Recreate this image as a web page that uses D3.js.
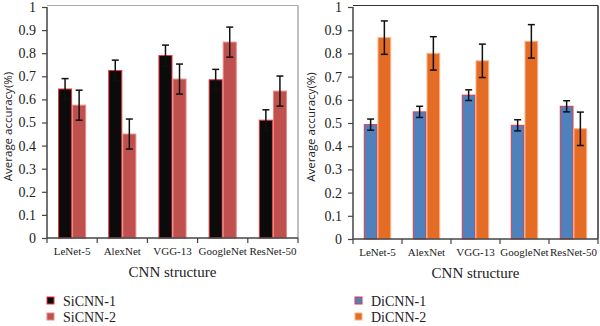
<!DOCTYPE html>
<html>
<head>
<meta charset="utf-8">
<script src="https://cdnjs.cloudflare.com/ajax/libs/d3/7.8.5/d3.min.js"></script>
<style>
  body { margin: 0; background: #fff; }
  svg { display: block; }
</style>
</head>
<body>
<div id="chart"></div>
<script>
var categories = ["LeNet-5", "AlexNet", "VGG-13", "GoogleNet", "ResNet-50"];
var yTicks = [0, 0.1, 0.2, 0.3, 0.4, 0.5, 0.6, 0.7, 0.8, 0.9, 1];

// left panel
var siNames = ["SiCNN-1", "SiCNN-2"];
var siCNN1 = [0.645, 0.725, 0.79, 0.685, 0.51];
var siCNN1Err = [0.045, 0.045, 0.045, 0.045, 0.045];
var siCNN2 = [0.575, 0.45, 0.688, 0.848, 0.636];
var siCNN2Err = [0.065, 0.065, 0.065, 0.065, 0.065];

// right panel
var diNames = ["DiCNN-1", "DiCNN-2"];
var diCNN1 = [0.493, 0.548, 0.62, 0.49, 0.572];
var diCNN1Err = [0.024, 0.024, 0.023, 0.024, 0.024];
var diCNN2 = [0.868, 0.80, 0.768, 0.852, 0.475];
var diCNN2Err = [0.072, 0.072, 0.072, 0.072, 0.072];

var w = 600, h = 326;
var serif = '"Liberation Serif", "Times New Roman", Times, "DejaVu Serif", serif';
var svg = d3.select("#chart").append("svg")
    .attr("width", w)
    .attr("height", h);

function drawPanel(opt) {
    var left = opt.left, right = opt.right, top = 7, bottom = opt.bottom;
    var g = svg.append("g");

    var x = d3.scaleBand().domain(categories).range([left, right]);
    var bw = x.bandwidth();
    var x1 = d3.scaleBand().domain(opt.names).range([bw * 0.22, bw * 0.78]);
    var y = d3.scaleLinear().domain([0, 1]).range([bottom, top]);

    // frame (top / right)
    g.append("line")
        .attr("x1", left).attr("x2", right).attr("y1", top - 1.5).attr("y2", top - 1.5)
        .attr("stroke", opt.frame).attr("stroke-width", 1);
    g.append("line")
        .attr("x1", right).attr("x2", right).attr("y1", top - 1.5).attr("y2", bottom)
        .attr("stroke", opt.frame).attr("stroke-width", 1.5);

    // bars
    var rows = [];
    opt.series.forEach(function (s, si) {
        s.values.forEach(function (v, i) {
            rows.push({ cat: categories[i], name: opt.names[si], v: v, e: s.err[i], fill: s.fill, stroke: s.stroke });
        });
    });

    g.selectAll(".bar")
        .data(rows)
        .enter()
        .append("rect")
        .attr("class", "bar")
        .attr("x", d => x(d.cat) + x1(d.name) + 0.5)
        .attr("width", x1.bandwidth() - 1)
        .attr("y", d => y(d.v))
        .attr("height", d => y(0) - y(d.v))
        .attr("fill", d => d.fill)
        .attr("stroke", d => d.stroke)
        .attr("stroke-width", 1);

    // error bars
    var eb = g.selectAll(".err")
        .data(rows)
        .enter()
        .append("g")
        .attr("class", "err")
        .attr("stroke", "#111")
        .attr("stroke-width", 1.5);
    eb.append("line")
        .attr("x1", d => x(d.cat) + x1(d.name) + x1.bandwidth() / 2)
        .attr("x2", d => x(d.cat) + x1(d.name) + x1.bandwidth() / 2)
        .attr("y1", d => y(d.v - d.e))
        .attr("y2", d => y(d.v + d.e));
    [-1, 1].forEach(function (sgn) {
        eb.append("line")
            .attr("x1", d => x(d.cat) + x1(d.name) + x1.bandwidth() / 2 - 3.5)
            .attr("x2", d => x(d.cat) + x1(d.name) + x1.bandwidth() / 2 + 3.5)
            .attr("y1", d => y(d.v + sgn * d.e))
            .attr("y2", d => y(d.v + sgn * d.e));
    });

    // y axis
    var ya = g.append("g")
        .attr("transform", "translate(" + left + ",0)")
        .call(d3.axisLeft(y).tickValues(yTicks).tickSize(5).tickPadding(6)
            .tickFormat(d => d === 0 ? "0" : d === 1 ? "1" : d3.format(".1f")(d)));
    ya.attr("font-family", serif).attr("font-size", 14);
    ya.select(".domain").attr("stroke", "#444").attr("stroke-width", 1.5).attr("d", "M0," + top + "V" + bottom);
    ya.selectAll(".tick line").attr("stroke", "#444").attr("stroke-width", 1.2);
    ya.selectAll("text").attr("fill", "#222");

    // x axis
    var xa = g.append("g")
        .attr("transform", "translate(0," + bottom + ")");
    xa.append("line")
        .attr("x1", left).attr("x2", right)
        .attr("stroke", "#444").attr("stroke-width", 1.5);
    var bounds = categories.map(c => x(c)).concat([right]);
    xa.selectAll(".xt")
        .data(bounds)
        .enter()
        .append("line")
        .attr("x1", d => d).attr("x2", d => d)
        .attr("y1", 0).attr("y2", 5)
        .attr("stroke", "#444").attr("stroke-width", 1.2);
    xa.selectAll(".xl")
        .data(categories)
        .enter()
        .append("text")
        .attr("x", d => x(d) + bw / 2)
        .attr("y", 17)
        .attr("text-anchor", "middle")
        .attr("fill", "#222")
        .attr("font-family", serif)
        .attr("font-size", 11)
        .text(d => d);

    // axis titles
    g.append("text")
        .attr("x", (left + right) / 2)
        .attr("y", bottom + 39)
        .attr("text-anchor", "middle")
        .attr("fill", "#222")
        .attr("font-family", serif)
        .attr("font-size", 15)
        .text("CNN structure");
    g.append("text")
        .attr("transform", "translate(" + opt.titleX + "," + ((top + bottom) / 2 + 4) + ") rotate(-90)")
        .attr("text-anchor", "middle")
        .attr("fill", "#222")
        .attr("font-family", "'Open Sans', sans-serif")
        .attr("font-size", 11.5)
        .text("Average accuracy(%)");

    // legend
    var lg = g.selectAll(".leg")
        .data(opt.series)
        .enter()
        .append("g")
        .attr("class", "leg")
        .attr("transform", (d, i) => "translate(" + opt.legX + "," + (297 + i * 16) + ")");
    lg.append("rect")
        .attr("width", 7).attr("height", 7)
        .attr("fill", d => d.fill)
        .attr("stroke", d => d.stroke)
        .attr("stroke-width", 1);
    lg.append("text")
        .attr("x", 16)
        .attr("y", 8.5)
        .attr("fill", "#222")
        .attr("font-family", serif)
        .attr("font-size", 14)
        .text((d, i) => opt.names[i]);
}

drawPanel({
    left: 47, right: 298, bottom: 238, titleX: 12, legX: 47, frame: "#aaa",
    names: siNames,
    series: [
        { values: siCNN1, err: siCNN1Err, fill: "#0b0b0b", stroke: "#e8323c" },
        { values: siCNN2, err: siCNN2Err, fill: "#c0504d", stroke: "#e58a86" }
    ]
});

drawPanel({
    left: 353, right: 598, bottom: 239, titleX: 315, legX: 355, frame: "#333",
    names: diNames,
    series: [
        { values: diCNN1, err: diCNN1Err, fill: "#4f81bd", stroke: "#e0394a" },
        { values: diCNN2, err: diCNN2Err, fill: "#e46c24", stroke: "#f6b58c" }
    ]
});
</script>
</body>
</html>
